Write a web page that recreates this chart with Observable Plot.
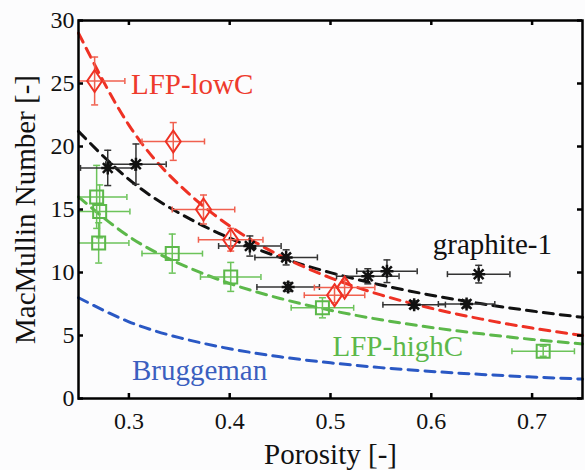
<!DOCTYPE html>
<html><head><meta charset="utf-8">
<script src="https://cdn.jsdelivr.net/npm/d3@7"></script>
<script src="https://cdn.jsdelivr.net/npm/@observablehq/plot@0.6"></script>
<style>
body{margin:0;background:#fcfcfd;}
#chart{width:585px;height:470px;}
#chart svg, #chart svg text{font-family:"Liberation Serif","Times New Roman",serif !important;}
</style></head><body><div id="chart"></div>
<script>
// ---- data ----
const porosityGrid = [0.25, 0.30, 0.35, 0.40, 0.45, 0.50, 0.55, 0.60, 0.65, 0.70, 0.75];
const bruggemanCurve = [8.0, 6.09, 4.83, 3.95, 3.31, 2.83, 2.45, 2.15, 1.91, 1.71, 1.54];
const lowCFitCurve   = [29.0, 21.7, 16.95, 13.69, 11.34, 9.58, 8.22, 7.16, 6.30, 5.59, 5.0];
const graphiteFitCurve = [21.2, 17.39, 14.71, 12.73, 11.20, 9.99, 9.01, 8.20, 7.52, 6.94, 6.44];
const highCFitCurve  = [16.0, 12.86, 10.71, 9.13, 7.94, 7.00, 6.25, 5.64, 5.13, 4.69, 4.33];

const lowCX    = [0.266, 0.344, 0.374, 0.401, 0.504, 0.514];
const lowCY    = [25.2, 20.4, 15.0, 12.6, 8.2, 8.8];
const lowCXErr = [0.03, 0.031, 0.031, 0.032, 0.03, 0.03];
const lowCYErr = [1.9, 1.5, 1.15, 0.9, 0.6, 0.6];

const graphiteX    = [0.279, 0.307, 0.420, 0.456, 0.458, 0.537, 0.556, 0.583, 0.635, 0.647];
const graphiteY    = [18.3, 18.6, 12.1, 11.2, 8.85, 9.7, 10.1, 7.45, 7.5, 9.87];
const graphiteXErr = [0.027, 0.03, 0.031, 0.031, 0.031, 0.031, 0.03, 0.031, 0.028, 0.031];
const graphiteYErr = [1.4, 1.6, 0.8, 0.6, 0.35, 0.6, 0.9, 0.3, 0.3, 0.7];

const highCX    = [0.268, 0.271, 0.270, 0.343, 0.401, 0.492, 0.711];
const highCY    = [16.0, 14.85, 12.35, 11.5, 9.65, 7.2, 3.75];
const highCXErr = [0.03, 0.03, 0.03, 0.03, 0.03, 0.031, 0.031];
const highCYErr = [2.5, 2.1, 1.6, 1.55, 1.15, 0.8, 0.4];

const xTicks = [0.3, 0.4, 0.5, 0.6, 0.7];
const yTicks = [0, 5, 10, 15, 20, 25, 30];

const seriesLabels = [
  {text: "LFP-lowC",  x: 0.302, y: 24.2, color: "#ee3a2c"},
  {text: "graphite-1", x: 0.6015, y: 11.45, color: "#111111"},
  {text: "LFP-highC", x: 0.502, y: 3.37, color: "#5cb84a"},
  {text: "Bruggeman", x: 0.303, y: 1.47, color: "#3b5fbf"}
];

// ---- build tables ----
const curve = (name, ys) => porosityGrid.map((x, i) => ({name, x, y: ys[i]}));
const pts = (xs, ys, xe, ye) => xs.map((x, i) => ({x, y: ys[i], xerr: xe[i], yerr: ye[i]}));
const lowC = pts(lowCX, lowCY, lowCXErr, lowCYErr);
const graphite = pts(graphiteX, graphiteY, graphiteXErr, graphiteYErr);
const highC = pts(highCX, highCY, highCXErr, highCYErr);

// ---- custom symbols ----
const rad = s => Math.sqrt(s / Math.PI);
const hcap = {draw(c, s){ const r = rad(s); c.moveTo(-r, 0); c.lineTo(r, 0); }};
const vcap = {draw(c, s){ const r = rad(s); c.moveTo(0, -r); c.lineTo(0, r); }};
const tallDiamond = {draw(c, s){ const r = rad(s); c.moveTo(0, -r); c.lineTo(0.68*r, 0); c.lineTo(0, r); c.lineTo(-0.68*r, 0); c.closePath(); }};
const box = {draw(c, s){ const r = rad(s); c.rect(-r, -r, 2*r, 2*r); }};
const star = {draw(c, s){ const r = rad(s), d = r*0.75;
  c.moveTo(0, -r); c.lineTo(0, r);
  c.moveTo(-r, 0); c.lineTo(r, 0);
  c.moveTo(-d, -d); c.lineTo(d, d);
  c.moveTo(-d, d); c.lineTo(d, -d); }};

const RED = "#ee3124", RED_BAR = "#f0604f";
const BLK = "#111111", BLK_BAR = "#333333";
const GRN = "#5cb84a", GRN_BAR = "#6cc35a";
const BLU = "#2a58c4";
const serif = "Liberation Serif";

function errMarks(data, barColor) {
  return [
    Plot.ruleY(data, {y: "y", x1: d => d.x - d.xerr, x2: d => d.x + d.xerr, stroke: barColor, strokeWidth: 1.5, clip: true}),
    Plot.ruleX(data, {x: "x", y1: d => d.y - d.yerr, y2: d => d.y + d.yerr, stroke: barColor, strokeWidth: 1.5, clip: true}),
    Plot.dot(data, {x: "x", y: d => d.y + d.yerr, symbol: hcap, r: 3.5, stroke: barColor, strokeWidth: 1.5}),
    Plot.dot(data, {x: "x", y: d => d.y - d.yerr, symbol: hcap, r: 3.5, stroke: barColor, strokeWidth: 1.5}),
    Plot.dot(data.filter(d => d.x - d.xerr > 0.25), {x: d => d.x - d.xerr, y: "y", symbol: vcap, r: 3, stroke: barColor, strokeWidth: 1.5}),
    Plot.dot(data, {x: d => d.x + d.xerr, y: "y", symbol: vcap, r: 3, stroke: barColor, strokeWidth: 1.5})
  ];
}

const dash = "10,7";
const frameW = 585 - 78 - 3, frameH = 470 - 20 - 72;

const chart = Plot.plot({
  width: 585, height: 470,
  marginLeft: 78, marginRight: 3, marginTop: 20, marginBottom: 72,
  style: {background: "#fcfcfd", fontFamily: serif, color: "#111"},
  x: {domain: [0.25, 0.75]},
  y: {domain: [0, 30]},
  marks: [
    Plot.line(curve("b", bruggemanCurve), {x: "x", y: "y", stroke: BLU, strokeWidth: 3, strokeDasharray: dash, curve: "natural"}),
    Plot.line(curve("h", highCFitCurve), {x: "x", y: "y", stroke: GRN, strokeWidth: 3, strokeDasharray: dash, curve: "natural"}),
    Plot.line(curve("g", graphiteFitCurve), {x: "x", y: "y", stroke: BLK, strokeWidth: 3, strokeDasharray: dash, curve: "natural"}),
    Plot.line(curve("l", lowCFitCurve), {x: "x", y: "y", stroke: RED, strokeWidth: 3, strokeDasharray: dash, curve: "natural"}),
    ...errMarks(highC, GRN_BAR),
    ...errMarks(graphite, BLK_BAR),
    ...errMarks(lowC, RED_BAR),
    Plot.dot(highC, {x: "x", y: "y", symbol: box, r: 6.5, stroke: GRN, strokeWidth: 2, fill: "none"}),
    Plot.dot(graphite, {x: "x", y: "y", symbol: star, r: 6.5, stroke: BLK, strokeWidth: 2.5}),
    Plot.dot(lowC, {x: "x", y: "y", symbol: tallDiamond, r: 11, stroke: RED, strokeWidth: 2, fill: "none"}),
    // inward ticks
    Plot.tickX(xTicks, {x: d => d, insetTop: frameH - 5, stroke: "#000", strokeWidth: 2.5}),
    Plot.tickX(xTicks, {x: d => d, insetBottom: frameH - 5, stroke: "#000", strokeWidth: 2.5}),
    Plot.tickY(yTicks, {y: d => d, insetRight: frameW - 5, stroke: "#000", strokeWidth: 2.5}),
    Plot.tickY(yTicks, {y: d => d, insetLeft: frameW - 5, stroke: "#000", strokeWidth: 2.5}),
    Plot.frame({stroke: "#000", strokeWidth: 2.5}),
    Plot.axisX({ticks: xTicks, tickSize: 0, tickPadding: 13, fontSize: 24, fontFamily: serif, label: null, tickFormat: d3.format(".1f")}),
    Plot.axisY({ticks: yTicks, tickSize: 0, tickPadding: 4, fontSize: 24, fontFamily: serif, label: null}),
    Plot.text(["Porosity [-]"], {frameAnchor: "bottom", dy: 65, lineAnchor: "bottom", textAnchor: "middle", fontSize: 29, fontFamily: serif, fill: "#111"}),
    Plot.text(["MacMullin Number [-]"], {frameAnchor: "left", dx: -44, rotate: -90, lineAnchor: "bottom", textAnchor: "middle", fontSize: 29, fontFamily: serif, fill: "#111"}),
    Plot.text(seriesLabels, {x: "x", y: "y", text: "text", fill: d => d.color, textAnchor: "start", lineAnchor: "bottom", fontSize: 29, fontFamily: serif})
  ]
});
document.getElementById("chart").appendChild(chart);
</script></body></html>
